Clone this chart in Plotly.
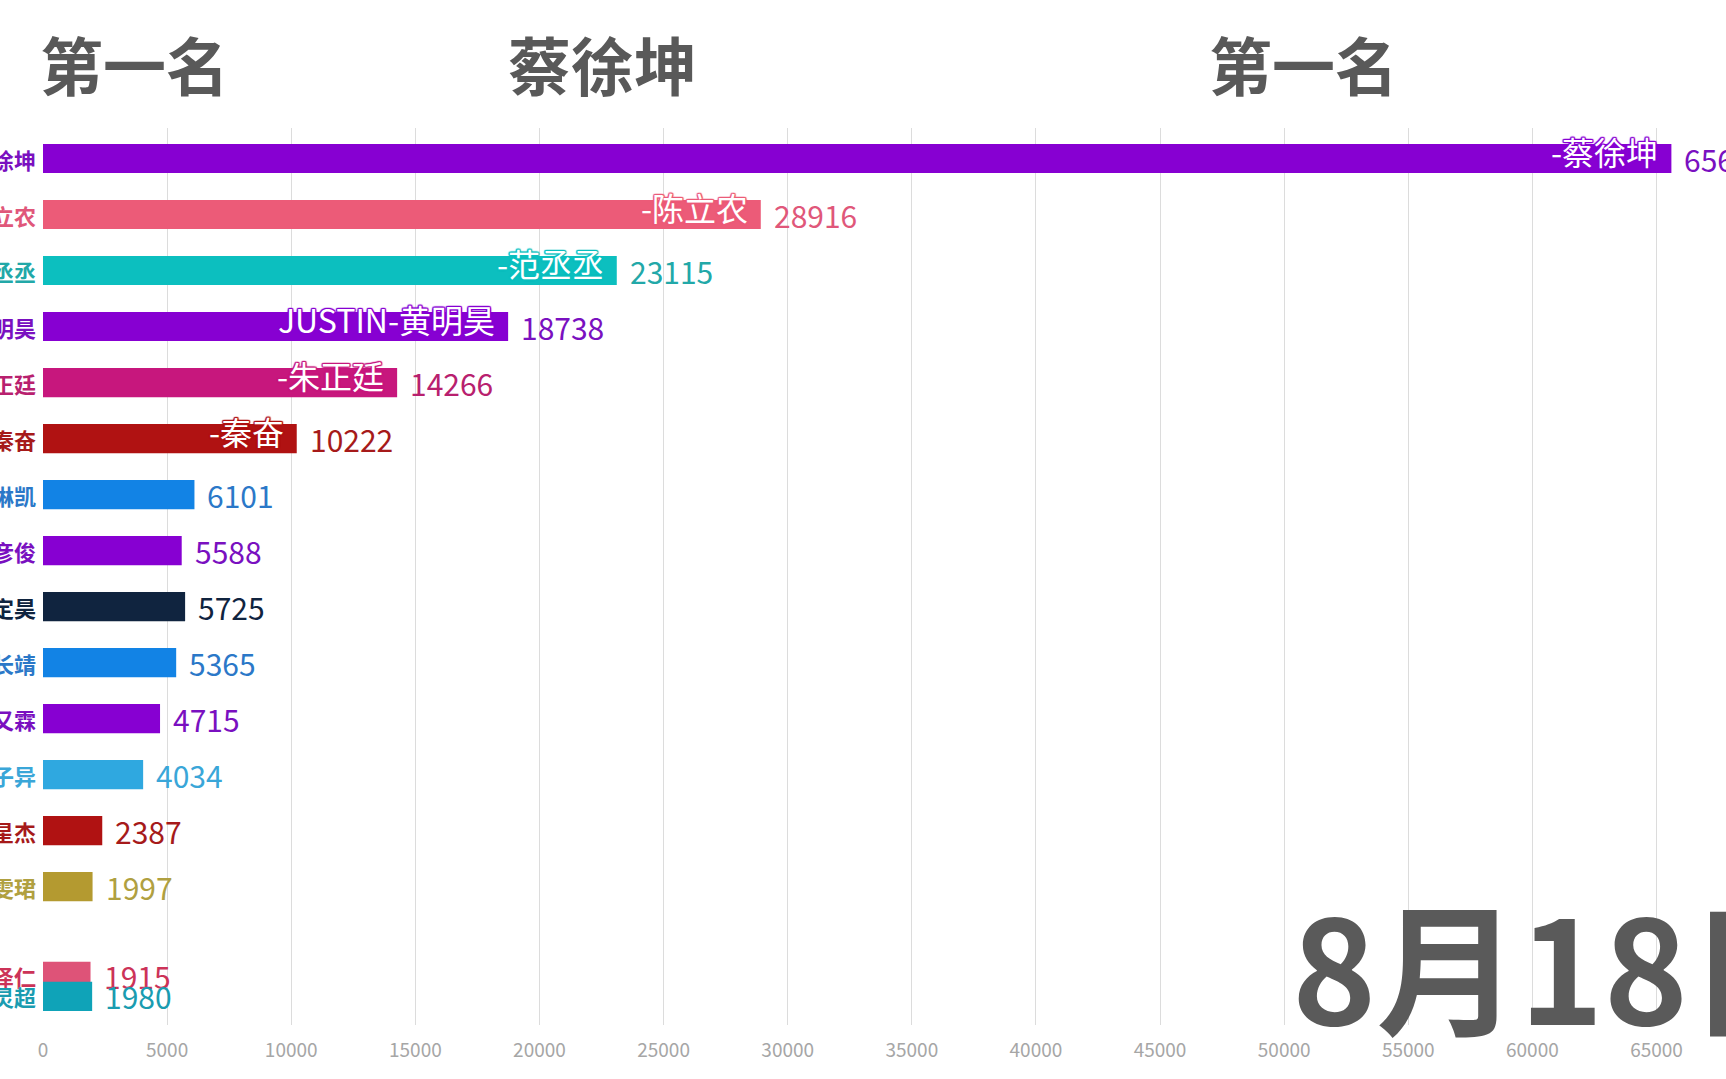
import plotly.graph_objects as go

# ---------------- data ----------------
names = ["蔡徐坤", "陈立农", "范丞丞", "黄明昊", "朱正廷", "秦奋", "王琳凯", "林彦俊",
         "陆定昊", "尤长靖", "董又霖", "王子异", "朱星杰", "毕雯珺", "丁泽仁", "灵超"]
values = [65600, 28916, 23115, 18738, 14266, 10222, 6101, 5588,
          5725, 5365, 4715, 4034, 2387, 1997, 1915, 1980]
value_text = ["65600", "28916", "23115", "18738", "14266", "10222", "6101", "5588",
              "5725", "5365", "4715", "4034", "2387", "1997", "1915", "1980"]
# rank position of each bar in this animation frame
rank_pos = [1, 2, 3, 4, 5, 6, 7, 8, 9, 10, 11, 12, 13, 14, 15.6, 15.96]
inner_labels = ["-蔡徐坤", "-陈立农", "-范丞丞", "JUSTIN-黄明昊", "-朱正廷", "-秦奋",
                "", "", "", "", "", "", "", "", "", ""]
colors = ["#8700d2", "#ec5b78", "#0cbfbf", "#8700d2", "#c7177d", "#b01212", "#1283e5", "#8700d2",
          "#10243f", "#1283e5", "#8700d2", "#2fa8e0", "#b01212", "#b49a30", "#d83560", "#0fa3b8"]
text_colors = ["#7a10c0", "#e0577a", "#22a8a8", "#7a10c0", "#b8206e", "#a61a1a", "#2b78c8", "#7a10c0",
               "#10243f", "#2b78c8", "#7a10c0", "#3aa6d8", "#a61a1a", "#b0a040", "#cc3358", "#1a9cb0"]
bar_opacity = [1, 1, 1, 1, 1, 1, 1, 1, 1, 1, 1, 1, 1, 1, 0.85, 1]
tick_vals = [0, 5000, 10000, 15000, 20000, 25000, 30000, 35000, 40000, 45000, 50000, 55000, 60000, 65000]
tick_text = ["0", "5000", "10000", "15000", "20000", "25000", "30000", "35000", "40000",
             "45000", "50000", "55000", "60000", "65000"]
title_left = "第一名"
title_mid = "蔡徐坤"
title_right = "第一名"
date_text = "8月18日"

# ---------------- layout geometry ----------------
W, H = 1726, 1079
ML, MR, MT, MB = 43, 0, 128, 54
PW, PH = W - ML - MR, H - MT - MB
FONT = "Noto Sans CJK SC"


def px(xpix):
    return (xpix - ML) / PW


def py(ypix):
    return (H - MB - ypix) / PH


fig = go.Figure()
fig.add_trace(go.Bar(
    x=values, y=rank_pos, orientation="h", width=0.52,
    marker=dict(color=colors, opacity=bar_opacity, line=dict(width=0)),
    hoverinfo="skip",
))

ann = []
for n, v, vt, p, lab, c, tc in zip(names, values, value_text, rank_pos, inner_labels, colors, text_colors):
    # name on the left of the axis
    ann.append(dict(x=0, y=p, xref="x", yref="y", text=n, showarrow=False,
                    xanchor="right", yanchor="middle", xshift=-5,
                    font=dict(family=FONT, size=22, color=tc, weight="bold")))
    # value to the right of the bar
    ann.append(dict(x=v, y=p, xref="x", yref="y", text=vt, showarrow=False,
                    xanchor="left", yanchor="middle", xshift=11,
                    font=dict(family=FONT, size=30, color=tc)))
    # label inside the bar (white text with an outline in the bar colour)
    if lab:
        outline = ", ".join(f"{dx}px {dy}px 1px {c}" for dx, dy in
                            [(1, 1), (-1, -1), (1, -1), (-1, 1), (0, 1), (0, -1), (1, 0), (-1, 0)])
        ann.append(dict(x=v, y=p, xref="x", yref="y", text=lab, showarrow=False,
                        xanchor="right", yanchor="middle", xshift=-11, yshift=8,
                        font=dict(family=FONT, size=32, color="white", shadow=outline)))

title_font = dict(family=FONT, size=63, color="#595959", weight="bold")
for t, xp in [(title_left, 38), (title_mid, 506), (title_right, 1207)]:
    ann.append(dict(x=px(xp), y=py(63), xref="paper", yref="paper", text=t, showarrow=False,
                    xanchor="left", yanchor="middle", font=title_font))

ann.append(dict(x=px(1290), y=py(962), xref="paper", yref="paper", text=date_text, showarrow=False,
                xanchor="left", yanchor="middle",
                font=dict(family=FONT, size=143, color="#5a5a5a", weight="bold")))

fig.update_layout(
    width=W, height=H,
    margin=dict(l=ML, r=MR, t=MT, b=MB, pad=0),
    paper_bgcolor="white", plot_bgcolor="white",
    showlegend=False,
    barmode="overlay",
    annotations=ann,
    xaxis=dict(range=[0, 67800], tickvals=tick_vals, ticktext=tick_text,
               showgrid=True, gridcolor="#dcdcdc", gridwidth=1, zeroline=False,
               showline=False, ticks="", ticklabelstandoff=12,
               tickfont=dict(family=FONT, size=19, color="#a6a6a6"), fixedrange=True),
    yaxis=dict(range=[16.47, 0.455], showticklabels=False, showgrid=False,
               zeroline=False, showline=False, fixedrange=True, automargin=False),
)

fig.write_html("out.html", config={"displayModeBar": False})
